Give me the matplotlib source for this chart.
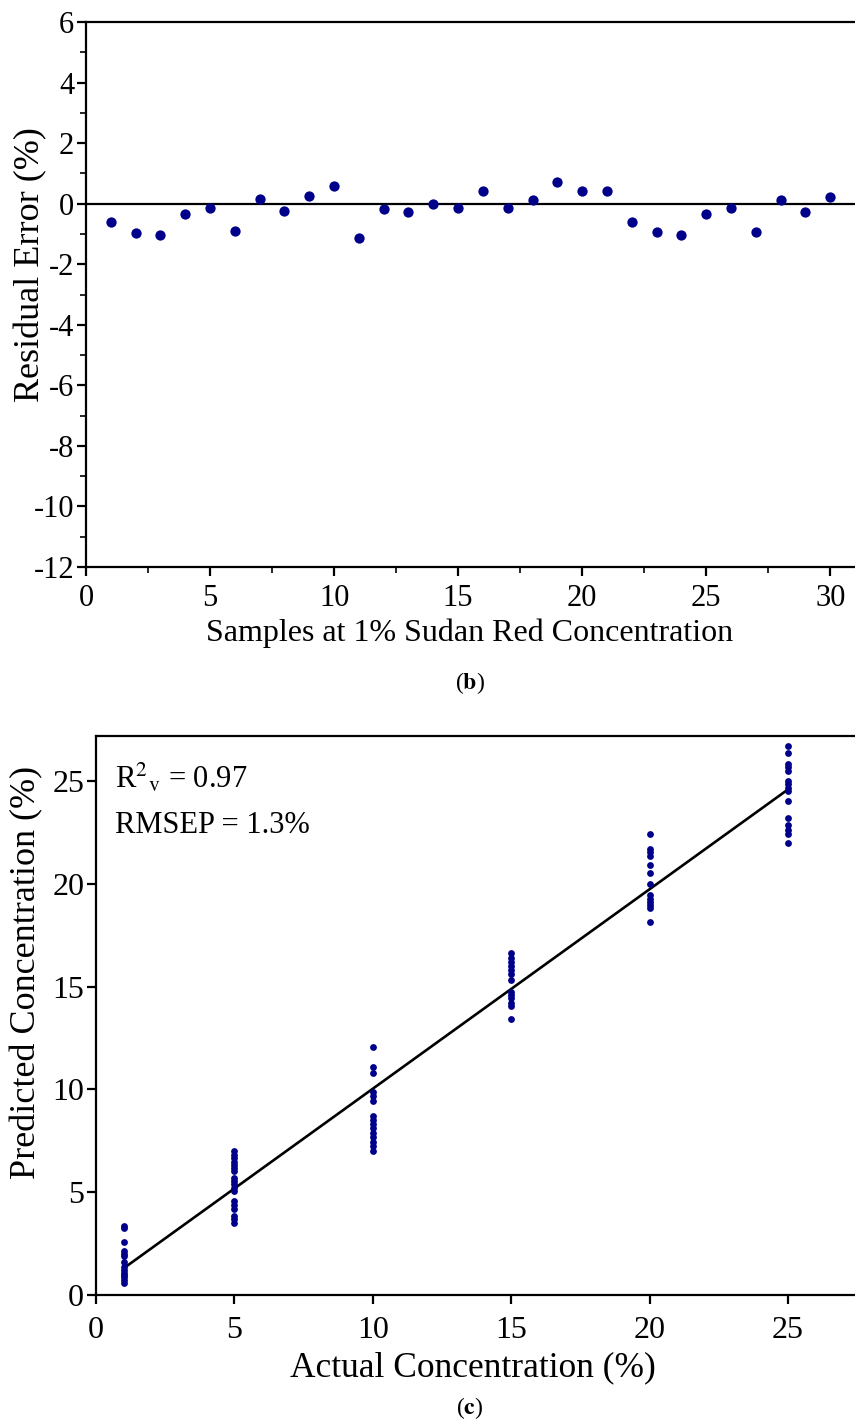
import matplotlib

matplotlib.use("Agg")

import matplotlib.pyplot as plt
from matplotlib.ticker import MultipleLocator

# residuals for 30 samples at 1% Sudan Red
sample_idx = list(range(1, 31))
residual = [-0.62, -0.96, -1.05, -0.35, -0.13, -0.91, 0.14, -0.25, 0.24, 0.58,
            -1.15, -0.17, -0.28, 0.00, -0.14, 0.43, -0.14, 0.13, 0.71, 0.41,
            0.41, -0.62, -0.95, -1.05, -0.35, -0.13, -0.92, 0.13, -0.27, 0.23]

# predicted vs actual concentration
pred_1 = [3.36, 3.26, 2.58, 2.14, 1.99, 1.90, 1.60, 1.36, 1.22, 1.07, 0.97, 0.88, 0.73, 0.58]
pred_5 = [7.00, 6.81, 6.65, 6.48, 6.32, 6.16, 6.05, 5.68, 5.54, 5.40, 5.19, 5.07,
          4.59, 4.38, 4.18, 3.84, 3.68, 3.49]
pred_10 = [12.08, 11.10, 10.78, 9.89, 9.68, 9.45, 8.71, 8.51, 8.32, 8.11, 7.89, 7.70,
           7.46, 7.25, 7.02]
pred_15 = [16.65, 16.42, 16.21, 16.00, 15.80, 15.61, 15.32, 14.75, 14.59, 14.43,
           14.22, 14.06, 13.41]
pred_20 = [22.41, 21.68, 21.56, 21.35, 20.91, 20.51, 20.02, 19.46, 19.29, 19.13,
           18.97, 18.81, 18.13]
pred_25 = [26.70, 26.35, 25.86, 25.70, 25.50, 25.02, 24.85, 24.69, 24.53, 24.04,
           23.23, 22.86, 22.65, 22.42, 22.00]
actual_levels = [1, 5, 10, 15, 20, 25]
fit_x = [1, 25]
fit_y = [1.3, 24.6]

NAVY = "#00008B"

plt.rcParams["font.family"] = ["Liberation Serif", "DejaVu Serif"]
plt.rcParams["mathtext.fontset"] = "stix"
plt.rcParams["axes.unicode_minus"] = False
plt.rcParams["axes.linewidth"] = 1.6
plt.rcParams["xtick.major.width"] = 1.6
plt.rcParams["ytick.major.width"] = 1.6
plt.rcParams["xtick.minor.width"] = 1.2
plt.rcParams["ytick.minor.width"] = 1.2


def style_axes(ax, tick_size, xpad):
    ax.spines["right"].set_visible(False)
    ax.tick_params(which="major", direction="out", length=6.5, labelsize=tick_size)
    ax.tick_params(which="minor", direction="out", length=4)
    ax.tick_params(axis="x", which="major", pad=xpad)
    ax.tick_params(axis="y", which="major", pad=2)


fig = plt.figure(figsize=(8.55, 14.21), dpi=100)

# (b) residual plot
ax1 = fig.add_axes([86 / 855, 1 - 567 / 1421, 1 - 86 / 855, (567 - 22) / 1421])
ax1.scatter(sample_idx, residual, s=55, color=NAVY, zorder=3, linewidths=0)
ax1.axhline(0, color="black", lw=1.6, zorder=2)
ax1.set_xlim(0, 31)
ax1.set_ylim(-12, 6)
ax1.xaxis.set_major_locator(MultipleLocator(5))
ax1.xaxis.set_minor_locator(MultipleLocator(2.5))
ax1.yaxis.set_major_locator(MultipleLocator(2))
ax1.yaxis.set_minor_locator(MultipleLocator(1))
style_axes(ax1, 22, 6)
ax1.set_xlabel("Samples at 1% Sudan Red Concentration", fontsize=23)
ax1.set_ylabel("Residual Error (%)", fontsize=26)
ax1.xaxis.set_label_coords(0.4993, -0.095)
ax1.yaxis.set_label_coords((47 - 86) / 769, (567 - 265) / 545)
fig.text(470 / 855, 1 - 683 / 1421, r"($\mathbf{b}$)", ha="center", va="center", fontsize=17)

# (c) predicted vs actual
ax2 = fig.add_axes([96 / 855, 1 - 1295 / 1421, 1 - 96 / 855, (1295 - 736) / 1421])
for level, preds in zip(actual_levels, [pred_1, pred_5, pred_10, pred_15, pred_20, pred_25]):
    ax2.scatter([level] * len(preds), preds, s=24, color=NAVY, zorder=3, linewidths=0)
ax2.plot(fit_x, fit_y, color="black", lw=1.9, zorder=2)
ax2.set_xlim(0, 27.42)
ax2.set_ylim(0, 27.2)
ax2.xaxis.set_major_locator(MultipleLocator(5))
ax2.yaxis.set_major_locator(MultipleLocator(5))
style_axes(ax2, 23, 8.5)
ax2.set_xlabel("Actual Concentration (%)", fontsize=25.5)
ax2.set_ylabel("Predicted Concentration (%)", fontsize=26)
ax2.xaxis.set_label_coords((473 - 96) / 759, -0.100)
ax2.yaxis.set_label_coords((43 - 96) / 759, (1295 - 972) / 559)
ax2.text(0.025, 0.925, r"R$^{2}$$_{\mathrm{v}}$ = 0.97", transform=ax2.transAxes,
         fontsize=22, ha="left", va="center")
ax2.text(0.025, 0.84, "RMSEP = 1.3%", transform=ax2.transAxes,
         fontsize=22, ha="left", va="center")
fig.text(470 / 855, 1 - 1408 / 1421, r"($\mathbf{c}$)", ha="center", va="center", fontsize=17)

fig.savefig("out.png", dpi=100)
plt.close(fig)
